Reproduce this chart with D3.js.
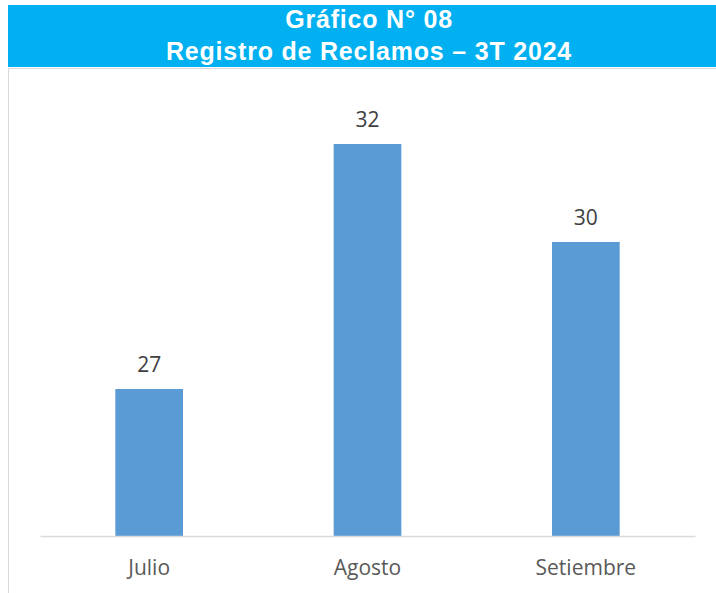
<!DOCTYPE html>
<html><head><meta charset="utf-8">
<script src="https://cdn.jsdelivr.net/npm/d3@7"></script>
<style>body{margin:0;background:#fff}</style>
</head><body>
<svg id="c" width="716" height="593"></svg>
<script>
const categories = ["Julio", "Agosto", "Setiembre"];
const values = [27, 32, 30];
const titleLines = ["Gráfico N° 08", "Registro de Reclamos – 3T 2024"];

const svg = d3.select("#c");
// banner
svg.append("rect").attr("x", 8).attr("y", 5).attr("width", 708).attr("height", 62).attr("fill", "#00B0F0");
svg.selectAll("text.title").data(titleLines).enter().append("text")
  .attr("x", 369).attr("y", (d,i)=> 28 + i*32)
  .attr("text-anchor", "middle")
  .attr("font-family", "Liberation Sans, Arial, sans-serif")
  .attr("font-weight", "bold").attr("font-size", 25)
  .attr("letter-spacing", 0.8)
  .attr("fill", "#fff").text(d=>d);
// frame
svg.append("line").attr("x1", 8).attr("x2", 716).attr("y1", 68.5).attr("y2", 68.5).attr("stroke", "#d9d9d9").attr("stroke-width", 1);
svg.append("line").attr("x1", 8.5).attr("x2", 8.5).attr("y1", 68).attr("y2", 593).attr("stroke", "#d9d9d9").attr("stroke-width", 1);

const x = d3.scaleBand().domain(categories).range([40, 695]).paddingInner(0.69).paddingOuter(0.345);
const y = d3.scaleLinear().domain([24, 33]).range([536, 95]);

svg.selectAll("rect.bar").data(values).enter().append("rect")
  .attr("x", (d,i)=> x(categories[i])).attr("width", x.bandwidth())
  .attr("y", d=> y(d)).attr("height", d=> 536 - y(d))
  .attr("fill", "#5B9BD5");

svg.selectAll("text.val").data(values).enter().append("text")
  .attr("x", (d,i)=> x(categories[i]) + x.bandwidth()/2)
  .attr("y", d=> y(d) - 17)
  .attr("text-anchor", "middle")
  .attr("font-family", "Open Sans, sans-serif").attr("font-size", 21)
  .attr("fill", "#404040").text(d=>d);

const ax = svg.append("g").attr("transform", "translate(0,536)").call(d3.axisBottom(x).tickSize(0).tickPadding(24));
ax.select(".domain").attr("stroke", "#d9d9d9").attr("stroke-width", 1.5);
ax.selectAll("text").attr("font-family", "Open Sans, sans-serif").attr("font-size", 21).attr("fill", "#595959");
</script>
</body></html>
